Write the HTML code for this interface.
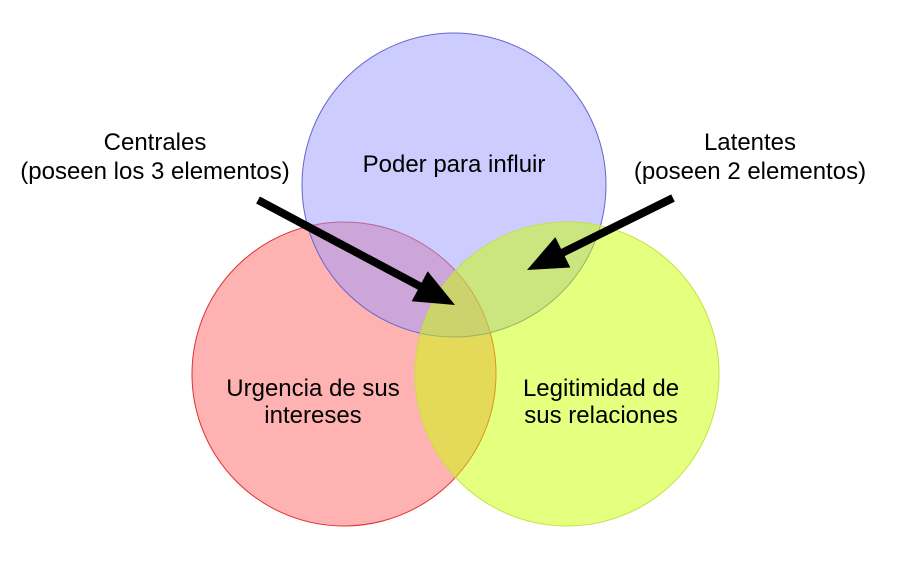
<!DOCTYPE html>
<html><head><meta charset="utf-8"><style>
html,body{margin:0;padding:0;background:#fff;}
svg{display:block;}
text{font-family:"Liberation Sans",sans-serif;font-size:24px;fill:#000;}
</style></head><body>
<svg width="898" height="561" viewBox="0 0 898 561" xmlns="http://www.w3.org/2000/svg">
<circle cx="344" cy="374" r="152" fill="#ff6666" fill-opacity="0.5" stroke="#e03030" stroke-width="1"/>
<circle cx="454" cy="185" r="152" fill="#9999ff" fill-opacity="0.5" stroke="#6666cc" stroke-width="1"/>
<circle cx="567" cy="374" r="152" fill="#ccff00" fill-opacity="0.5" stroke="#c8e040" stroke-width="1"/>
<text x="454" y="172" text-anchor="middle">Poder para influir</text>
<text x="313" y="396" text-anchor="middle">Urgencia de sus</text>
<text x="313" y="423" text-anchor="middle">intereses</text>
<text x="601" y="396" text-anchor="middle">Legitimidad de</text>
<text x="601" y="423" text-anchor="middle">sus relaciones</text>
<text x="155" y="150" text-anchor="middle">Centrales</text>
<text x="155" y="179" text-anchor="middle">(poseen los 3 elementos)</text>
<text x="750" y="150" text-anchor="middle">Latentes</text>
<text x="750" y="179" text-anchor="middle">(poseen 2 elementos)</text>
<line x1="258" y1="200" x2="425" y2="289" stroke="#000" stroke-width="8"/>
<polygon points="455,305 411.7,301.2 427.7,271.2" fill="#000"/>
<line x1="673" y1="198" x2="560" y2="254" stroke="#000" stroke-width="8"/>
<polygon points="527,270 570.3,267.5 555.3,237.1" fill="#000"/>
</svg>
</body></html>
